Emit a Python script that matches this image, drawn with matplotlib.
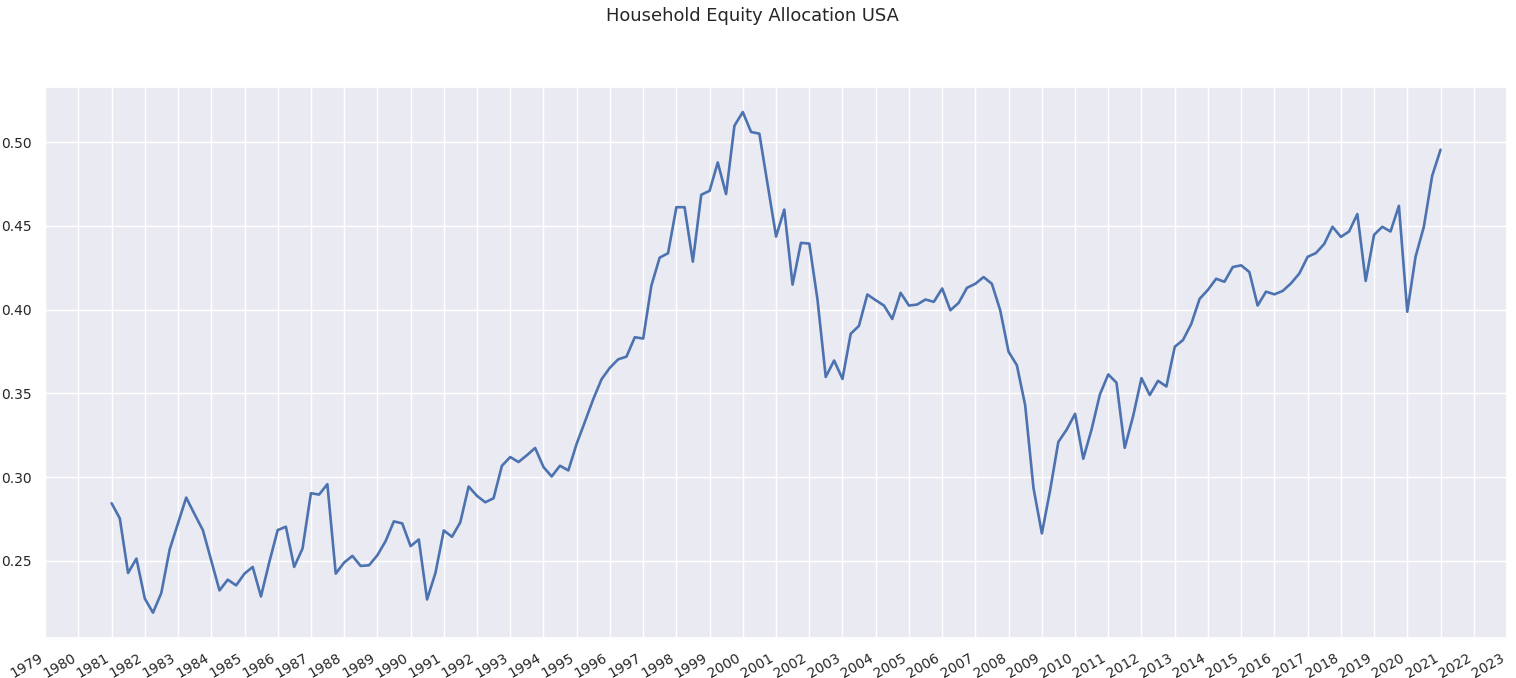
import matplotlib
matplotlib.use("Agg")
import matplotlib.pyplot as plt
import matplotlib.dates as mdates
import pandas as pd
import seaborn as sns

start_date = "1981-01-01"
equity_allocation = [
    0.2844, 0.2754, 0.2428, 0.2514,
    0.2275, 0.2191, 0.2308, 0.2568,
    0.2724, 0.2878, 0.2780, 0.2684,
    0.2504, 0.2324, 0.2388, 0.2354,
    0.2424, 0.2464, 0.2288, 0.2494,
    0.2684, 0.2704, 0.2464, 0.2574,
    0.2904, 0.2896, 0.2958, 0.2424,
    0.2490, 0.2530, 0.2470, 0.2474,
    0.2534, 0.2618, 0.2736, 0.2724,
    0.2588, 0.2628, 0.2270, 0.2428,
    0.2682, 0.2644, 0.2730, 0.2944,
    0.2888, 0.2850, 0.2874, 0.3068,
    0.3120, 0.3090, 0.3130, 0.3174,
    0.3060, 0.3004, 0.3068, 0.3040,
    0.3200, 0.3330, 0.3464, 0.3584,
    0.3653, 0.3703, 0.3719, 0.3835,
    0.3827, 0.4143, 0.4310, 0.4336,
    0.4611, 0.4611, 0.4286, 0.4685,
    0.4709, 0.4878, 0.4689, 0.5097,
    0.5179, 0.5060, 0.5050, 0.4745,
    0.4436, 0.4597, 0.4149, 0.4398,
    0.4394, 0.4060, 0.3598, 0.3696,
    0.3586, 0.3855, 0.3903, 0.4090,
    0.4056, 0.4024, 0.3944, 0.4100,
    0.4024, 0.4030, 0.4060, 0.4046,
    0.4126, 0.3996, 0.4040, 0.4130,
    0.4154, 0.4194, 0.4154, 0.3996,
    0.3748, 0.3668, 0.3430, 0.2934,
    0.2664, 0.2920, 0.3210, 0.3284,
    0.3378, 0.3110, 0.3284, 0.3494,
    0.3613, 0.3564, 0.3175, 0.3364,
    0.3591, 0.3490, 0.3575, 0.3541,
    0.3778, 0.3818, 0.3914, 0.4064,
    0.4118, 0.4184, 0.4166, 0.4254,
    0.4264, 0.4224, 0.4024, 0.4107,
    0.4091, 0.4111, 0.4156, 0.4215,
    0.4315, 0.4337, 0.4391, 0.4494,
    0.4434, 0.4466, 0.4570, 0.4171,
    0.4446, 0.4494, 0.4466, 0.4619,
    0.3987, 0.4315, 0.4494, 0.4799,
    0.4954,
]
dates = pd.date_range(start_date, periods=len(equity_allocation), freq="QS")
title = "Household Equity Allocation USA"

sns.set_theme(style="darkgrid")
plt.rcParams["font.family"] = ["DejaVu Sans"]

fig, ax = plt.subplots(figsize=(15.16, 6.78), dpi=100)
fig.subplots_adjust(left=0.0297, right=0.9941, top=0.8717, bottom=0.0594)
ax.plot(dates, equity_allocation, color="#4C72B0", linewidth=1.9)
ax.set_xlim(pd.Timestamp("1978-12-31"), pd.Timestamp("2023-01-02"))
ax.xaxis.set_major_locator(mdates.YearLocator(1))
ax.xaxis.set_major_formatter(mdates.DateFormatter("%Y"))
ax.tick_params(axis="both", labelsize=10)
for lbl in ax.get_xticklabels():
    lbl.set_rotation(30)
    lbl.set_ha("right")
fig.suptitle(title, fontsize=12.9, x=0.4965, y=0.99)
fig.savefig("out.png", dpi=100)
